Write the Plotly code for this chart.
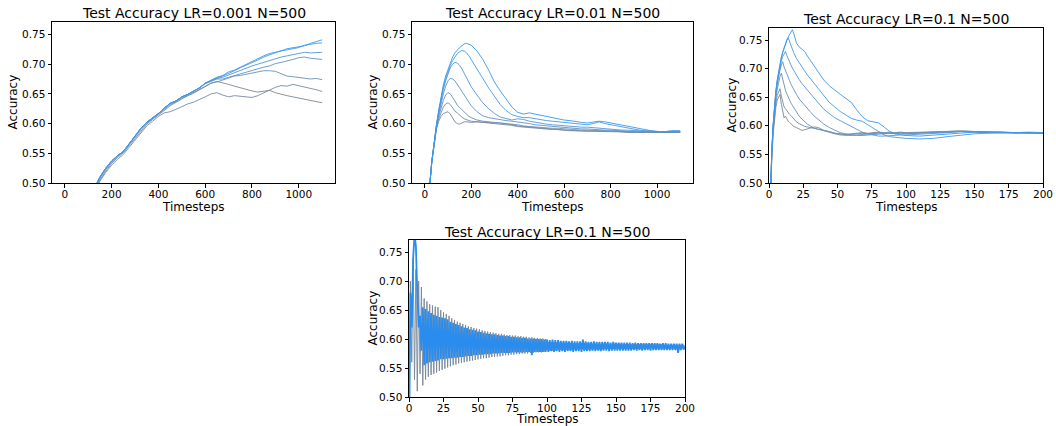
import plotly.graph_objects as go

# ---------------- data ----------------
TITLES = ["Test Accuracy LR=0.001 N=500", "Test Accuracy LR=0.01 N=500",
          "Test Accuracy LR=0.1 N=500", "Test Accuracy LR=0.1 N=500"]
Y_TICKS = [0.50, 0.55, 0.60, 0.65, 0.70, 0.75]
X_TICKS_LONG = [0, 200, 400, 600, 800, 1000]
X_TICKS_SHORT = [0, 25, 50, 75, 100, 125, 150, 175, 200]

# Panel 1 (LR=0.001): timesteps every 25
X1 = list(range(0, 1101, 25))
P1_L0 = [0.295, 0.335, 0.375, 0.415, 0.45, 0.485, 0.505, 0.52, 0.533,
         0.543, 0.551, 0.563, 0.575, 0.588, 0.599, 0.607, 0.614, 0.622,
         0.630, 0.636, 0.642, 0.647, 0.651, 0.657, 0.663, 0.668, 0.671,
         0.669, 0.666, 0.663, 0.660, 0.658, 0.655, 0.653, 0.654, 0.656,
         0.652, 0.649, 0.647, 0.645, 0.643, 0.642, 0.640, 0.638, 0.635]
P1_L1 = [0.29, 0.33, 0.37, 0.41, 0.445, 0.48, 0.503, 0.518, 0.530,
         0.540, 0.548, 0.560, 0.572, 0.585, 0.596, 0.604, 0.612, 0.618,
         0.620, 0.624, 0.629, 0.633, 0.636, 0.640, 0.645, 0.650, 0.652,
         0.648, 0.645, 0.647, 0.646, 0.644, 0.644, 0.647, 0.652, 0.656,
         0.661, 0.664, 0.663, 0.666, 0.664, 0.662, 0.659, 0.657, 0.654]
P1_L2 = [0.298, 0.338, 0.378, 0.418, 0.453, 0.488, 0.508, 0.523, 0.535,
         0.545, 0.552, 0.565, 0.578, 0.590, 0.600, 0.608, 0.616, 0.624,
         0.632, 0.637, 0.643, 0.647, 0.652, 0.658, 0.663, 0.668, 0.670,
         0.673, 0.676, 0.680, 0.681, 0.683, 0.686, 0.688, 0.689, 0.689,
         0.688, 0.684, 0.680, 0.679, 0.678, 0.676, 0.675, 0.676, 0.674]
P1_L3 = [0.30, 0.34, 0.38, 0.42, 0.455, 0.49, 0.51, 0.525, 0.537,
         0.546, 0.553, 0.566, 0.579, 0.592, 0.602, 0.609, 0.617, 0.626,
         0.634, 0.638, 0.645, 0.649, 0.654, 0.660, 0.667, 0.671, 0.675,
         0.675, 0.678, 0.680, 0.683, 0.686, 0.689, 0.692, 0.695, 0.697,
         0.701, 0.703, 0.705, 0.708, 0.711, 0.712, 0.710, 0.709, 0.708]
P1_L4 = [0.30, 0.34, 0.38, 0.42, 0.455, 0.49, 0.51, 0.525, 0.537,
         0.546, 0.553, 0.566, 0.579, 0.592, 0.602, 0.609, 0.617, 0.626,
         0.634, 0.638, 0.645, 0.649, 0.654, 0.660, 0.668, 0.672, 0.676,
         0.678, 0.682, 0.686, 0.690, 0.693, 0.697, 0.700, 0.703, 0.707,
         0.709, 0.712, 0.714, 0.716, 0.718, 0.720, 0.719, 0.720, 0.720]
P1_L5 = [0.30, 0.34, 0.38, 0.42, 0.455, 0.49, 0.51, 0.525, 0.537,
         0.546, 0.553, 0.566, 0.579, 0.592, 0.602, 0.609, 0.617, 0.626,
         0.634, 0.638, 0.645, 0.649, 0.654, 0.660, 0.668, 0.673, 0.677,
         0.680, 0.684, 0.689, 0.694, 0.698, 0.703, 0.707, 0.712, 0.716,
         0.719, 0.723, 0.724, 0.726, 0.728, 0.732, 0.734, 0.735, 0.736]
P1_L6 = [0.30, 0.34, 0.38, 0.42, 0.455, 0.49, 0.51, 0.525, 0.537,
         0.546, 0.553, 0.566, 0.579, 0.592, 0.602, 0.609, 0.617, 0.626,
         0.634, 0.638, 0.645, 0.649, 0.654, 0.660, 0.668, 0.673, 0.678,
         0.681, 0.687, 0.690, 0.695, 0.700, 0.704, 0.709, 0.714, 0.718,
         0.720, 0.722, 0.726, 0.728, 0.729, 0.731, 0.735, 0.738, 0.741]

# Panel 2 (LR=0.01)
X2 = [0, 10, 20, 30, 40, 50, 60, 70, 80, 90,
      100, 110, 120, 130, 140, 150, 160, 170, 180, 190,
      200, 225, 250, 275, 300, 325, 350, 375, 400, 425,
      450, 475, 500, 525, 550, 575, 600, 625, 650, 675,
      700, 725, 750, 775, 800, 825, 850, 875, 900, 925,
      950, 975, 1000, 1025, 1050, 1075, 1100]
P2_L0 = [0.30, 0.40, 0.49, 0.535, 0.566, 0.590, 0.604, 0.612, 0.617, 0.619,
         0.620, 0.616, 0.609, 0.603, 0.600, 0.599, 0.601, 0.603, 0.603, 0.602,
         0.602, 0.603, 0.602, 0.602, 0.601, 0.601, 0.600, 0.598, 0.596, 0.595,
         0.594, 0.593, 0.592, 0.591, 0.590, 0.589, 0.589, 0.588, 0.588, 0.587,
         0.587, 0.587, 0.587, 0.586, 0.586, 0.586, 0.586, 0.585, 0.585, 0.585,
         0.585, 0.585, 0.585, 0.585, 0.585, 0.585, 0.585]
P2_L1 = [0.30, 0.40, 0.49, 0.535, 0.567, 0.592, 0.608, 0.620, 0.628, 0.633,
         0.635, 0.632, 0.626, 0.621, 0.618, 0.614, 0.611, 0.608, 0.606, 0.605,
         0.604, 0.603, 0.603, 0.602, 0.601, 0.600, 0.599, 0.597, 0.595, 0.594,
         0.593, 0.592, 0.592, 0.591, 0.590, 0.590, 0.589, 0.589, 0.588, 0.588,
         0.588, 0.587, 0.587, 0.587, 0.587, 0.587, 0.586, 0.586, 0.586, 0.586,
         0.586, 0.586, 0.585, 0.585, 0.585, 0.586, 0.585]
P2_L2 = [0.30, 0.40, 0.49, 0.535, 0.568, 0.593, 0.612, 0.627, 0.639, 0.648,
         0.652, 0.650, 0.645, 0.638, 0.631, 0.627, 0.624, 0.620, 0.616, 0.612,
         0.610, 0.606, 0.604, 0.603, 0.602, 0.602, 0.601, 0.600, 0.598, 0.596,
         0.595, 0.594, 0.594, 0.593, 0.592, 0.592, 0.591, 0.590, 0.590, 0.589,
         0.589, 0.588, 0.588, 0.588, 0.587, 0.587, 0.587, 0.586, 0.586, 0.586,
         0.586, 0.586, 0.585, 0.585, 0.586, 0.586, 0.586]
P2_L3 = [0.30, 0.40, 0.49, 0.535, 0.569, 0.594, 0.615, 0.634, 0.650, 0.663,
         0.672, 0.676, 0.675, 0.672, 0.667, 0.660, 0.654, 0.648, 0.641, 0.635,
         0.630, 0.620, 0.613, 0.610, 0.608, 0.607, 0.605, 0.604, 0.603, 0.601,
         0.600, 0.598, 0.597, 0.596, 0.595, 0.594, 0.594, 0.593, 0.592, 0.591,
         0.591, 0.590, 0.590, 0.589, 0.589, 0.588, 0.588, 0.587, 0.587, 0.587,
         0.586, 0.586, 0.586, 0.586, 0.586, 0.587, 0.586]
P2_L4 = [0.30, 0.40, 0.49, 0.535, 0.57, 0.596, 0.619, 0.640, 0.657, 0.672,
         0.684, 0.694, 0.700, 0.703, 0.702, 0.698, 0.692, 0.685, 0.678, 0.670,
         0.662, 0.648, 0.635, 0.625, 0.617, 0.611, 0.608, 0.606, 0.608, 0.607,
         0.604, 0.602, 0.600, 0.599, 0.598, 0.597, 0.596, 0.596, 0.595, 0.594,
         0.594, 0.593, 0.592, 0.592, 0.591, 0.590, 0.589, 0.589, 0.588, 0.588,
         0.587, 0.587, 0.586, 0.586, 0.587, 0.587, 0.587]
P2_L5 = [0.30, 0.40, 0.49, 0.535, 0.57, 0.597, 0.621, 0.643, 0.662, 0.676,
         0.688, 0.698, 0.706, 0.713, 0.718, 0.721, 0.723, 0.722, 0.719, 0.714,
         0.708, 0.693, 0.676, 0.660, 0.645, 0.632, 0.622, 0.615, 0.612, 0.610,
         0.610, 0.608, 0.606, 0.605, 0.604, 0.603, 0.602, 0.601, 0.600, 0.598,
         0.598, 0.600, 0.603, 0.600, 0.598, 0.596, 0.594, 0.592, 0.590, 0.589,
         0.588, 0.587, 0.586, 0.586, 0.587, 0.588, 0.588]
P2_L6 = [0.30, 0.40, 0.49, 0.535, 0.57, 0.597, 0.622, 0.645, 0.665, 0.680,
         0.692, 0.703, 0.712, 0.719, 0.724, 0.728, 0.731, 0.734, 0.735, 0.734,
         0.732, 0.722, 0.708, 0.690, 0.670, 0.655, 0.642, 0.628, 0.619, 0.616,
         0.618, 0.616, 0.613, 0.611, 0.609, 0.607, 0.606, 0.605, 0.603, 0.602,
         0.601, 0.602, 0.604, 0.603, 0.601, 0.600, 0.598, 0.596, 0.593, 0.591,
         0.589, 0.588, 0.587, 0.586, 0.587, 0.588, 0.587]

# Panel 3 (LR=0.1, first 200 steps)
X3 = [0, 1, 2, 3, 4, 5, 6, 7, 8, 9,
      10, 11, 12, 13, 14, 15, 16, 17, 18, 20,
      22, 24, 26, 28, 30, 33, 36, 40, 44, 48,
      52, 56, 60, 64, 68, 72, 76, 80, 84, 88,
      92, 96, 100, 110, 120, 130, 140, 150, 160, 170,
      180, 190, 200]
P3_L0 = [0.38, 0.47, 0.54, 0.585, 0.612, 0.632, 0.645, 0.652, 0.655, 0.638,
         0.622, 0.614, 0.617, 0.611, 0.608, 0.606, 0.604, 0.601, 0.599, 0.597,
         0.594, 0.592, 0.593, 0.595, 0.596, 0.598, 0.597, 0.592, 0.589, 0.587,
         0.586, 0.585, 0.586, 0.587, 0.588, 0.587, 0.588, 0.589, 0.588, 0.589,
         0.588, 0.589, 0.588, 0.589, 0.590, 0.590, 0.591, 0.590, 0.589, 0.589,
         0.588, 0.588, 0.588]
P3_L1 = [0.38, 0.47, 0.545, 0.59, 0.62, 0.64, 0.653, 0.661, 0.665, 0.652,
         0.640, 0.633, 0.630, 0.626, 0.622, 0.620, 0.618, 0.615, 0.612, 0.607,
         0.604, 0.601, 0.599, 0.598, 0.597, 0.596, 0.595, 0.593, 0.590, 0.587,
         0.585, 0.584, 0.585, 0.586, 0.587, 0.586, 0.587, 0.588, 0.587, 0.588,
         0.587, 0.588, 0.587, 0.588, 0.589, 0.590, 0.590, 0.590, 0.589, 0.588,
         0.588, 0.588, 0.587]
P3_L2 = [0.38, 0.475, 0.55, 0.595, 0.627, 0.648, 0.664, 0.677, 0.686, 0.692,
         0.680, 0.670, 0.662, 0.656, 0.650, 0.645, 0.640, 0.636, 0.632, 0.624,
         0.617, 0.612, 0.607, 0.603, 0.600, 0.596, 0.594, 0.591, 0.588, 0.586,
         0.584, 0.583, 0.583, 0.584, 0.585, 0.585, 0.586, 0.587, 0.586, 0.587,
         0.587, 0.588, 0.587, 0.588, 0.589, 0.590, 0.591, 0.590, 0.589, 0.588,
         0.588, 0.588, 0.587]
P3_L3 = [0.38, 0.475, 0.552, 0.598, 0.632, 0.655, 0.672, 0.686, 0.697, 0.706,
         0.712, 0.703, 0.696, 0.690, 0.685, 0.679, 0.673, 0.668, 0.663, 0.655,
         0.647, 0.641, 0.636, 0.630, 0.625, 0.617, 0.611, 0.603, 0.597, 0.592,
         0.588, 0.586, 0.584, 0.583, 0.583, 0.584, 0.585, 0.586, 0.586, 0.587,
         0.586, 0.587, 0.586, 0.587, 0.588, 0.589, 0.590, 0.589, 0.589, 0.588,
         0.588, 0.587, 0.588]
P3_L4 = [0.38, 0.475, 0.553, 0.60, 0.634, 0.658, 0.676, 0.691, 0.703, 0.713,
         0.721, 0.727, 0.730, 0.723, 0.717, 0.711, 0.706, 0.701, 0.697, 0.688,
         0.681, 0.674, 0.668, 0.662, 0.656, 0.647, 0.640, 0.629, 0.621, 0.614,
         0.609, 0.604, 0.599, 0.594, 0.589, 0.586, 0.584, 0.582, 0.582, 0.583,
         0.583, 0.584, 0.584, 0.585, 0.586, 0.588, 0.590, 0.589, 0.588, 0.588,
         0.587, 0.588, 0.587]
P3_L5 = [0.38, 0.475, 0.553, 0.601, 0.636, 0.66, 0.679, 0.695, 0.708, 0.719,
         0.728, 0.736, 0.743, 0.749, 0.754, 0.747, 0.740, 0.734, 0.728, 0.718,
         0.710, 0.703, 0.696, 0.689, 0.683, 0.673, 0.664, 0.652, 0.641, 0.633,
         0.625, 0.619, 0.613, 0.610, 0.608, 0.602, 0.596, 0.589, 0.584, 0.581,
         0.580, 0.579, 0.578, 0.577, 0.578, 0.581, 0.584, 0.586, 0.587, 0.588,
         0.588, 0.587, 0.587]
P3_L6 = [0.38, 0.475, 0.553, 0.601, 0.637, 0.661, 0.68, 0.696, 0.709, 0.72,
         0.729, 0.737, 0.744, 0.750, 0.755, 0.760, 0.764, 0.768, 0.762, 0.745,
         0.738, 0.734, 0.730, 0.722, 0.715, 0.704, 0.692, 0.680, 0.670, 0.662,
         0.655, 0.648, 0.641, 0.628, 0.616, 0.609, 0.607, 0.605, 0.598, 0.590,
         0.586, 0.584, 0.583, 0.582, 0.584, 0.586, 0.587, 0.589, 0.588, 0.589,
         0.588, 0.589, 0.588]

# Panel 4 (LR=0.1, oscillating runs, every timestep)
X4 = list(range(0, 201))
P4_GRAY = [0.40, 0.70, 0.56, 0.74, 0.53, 0.72, 0.51, 0.70, 0.54, 0.69,
           0.52, 0.67, 0.53, 0.665, 0.535, 0.66, 0.538, 0.658, 0.54, 0.656,
           0.542, 0.655, 0.545, 0.650, 0.547, 0.646, 0.549, 0.643, 0.551, 0.640,
           0.553, 0.636, 0.555, 0.633, 0.556, 0.630, 0.558, 0.628, 0.559, 0.626,
           0.560, 0.624, 0.561, 0.622, 0.562, 0.621, 0.563, 0.619, 0.564, 0.618,
           0.565, 0.617, 0.566, 0.615, 0.567, 0.614, 0.567, 0.613, 0.568, 0.612,
           0.569, 0.611, 0.569, 0.610, 0.570, 0.609, 0.570, 0.609, 0.571, 0.608,
           0.572, 0.607, 0.572, 0.607, 0.573, 0.606, 0.573, 0.606, 0.574, 0.605,
           0.574, 0.605, 0.575, 0.604, 0.575, 0.604, 0.575, 0.603, 0.576, 0.603,
           0.576, 0.602, 0.577, 0.602, 0.577, 0.601, 0.577, 0.601, 0.578, 0.600,
           0.580, 0.595, 0.580, 0.595, 0.580, 0.595, 0.580, 0.594, 0.581, 0.594,
           0.581, 0.594, 0.581, 0.594, 0.581, 0.594, 0.581, 0.593, 0.581, 0.593,
           0.582, 0.593, 0.582, 0.593, 0.582, 0.593, 0.582, 0.593, 0.582, 0.593,
           0.582, 0.593, 0.582, 0.592, 0.582, 0.592, 0.582, 0.592, 0.582, 0.592,
           0.582, 0.592, 0.583, 0.592, 0.583, 0.592, 0.583, 0.592, 0.583, 0.592,
           0.583, 0.592, 0.583, 0.592, 0.583, 0.591, 0.583, 0.591, 0.583, 0.591,
           0.583, 0.591, 0.583, 0.591, 0.583, 0.591, 0.583, 0.591, 0.583, 0.591,
           0.584, 0.591, 0.584, 0.591, 0.584, 0.591, 0.584, 0.591, 0.584, 0.591,
           0.584, 0.591, 0.584, 0.591, 0.584, 0.590, 0.584, 0.590, 0.584, 0.590,
           0.584, 0.590, 0.584, 0.590, 0.584, 0.590, 0.584, 0.590, 0.584, 0.590,
           0.586]
P4_BLUE = [0.40, 0.68, 0.62, 0.74, 0.78, 0.76, 0.68, 0.62, 0.64, 0.58,
           0.655, 0.555, 0.652, 0.558, 0.648, 0.560, 0.645, 0.561, 0.642, 0.562,
           0.640, 0.563, 0.638, 0.565, 0.637, 0.565, 0.636, 0.566, 0.634, 0.567,
           0.630, 0.567, 0.628, 0.568, 0.626, 0.568, 0.624, 0.569, 0.622, 0.569,
           0.620, 0.570, 0.619, 0.571, 0.617, 0.571, 0.616, 0.572, 0.615, 0.572,
           0.613, 0.573, 0.612, 0.573, 0.611, 0.574, 0.610, 0.574, 0.609, 0.574,
           0.608, 0.575, 0.608, 0.575, 0.607, 0.575, 0.606, 0.576, 0.606, 0.576,
           0.605, 0.576, 0.605, 0.576, 0.604, 0.577, 0.604, 0.577, 0.603, 0.577,
           0.603, 0.577, 0.602, 0.577, 0.602, 0.578, 0.601, 0.578, 0.601, 0.572,
           0.601, 0.578, 0.600, 0.578, 0.600, 0.578, 0.600, 0.578, 0.599, 0.578,
           0.599, 0.578, 0.598, 0.579, 0.599, 0.578, 0.598, 0.579, 0.598, 0.578,
           0.597, 0.579, 0.597, 0.578, 0.597, 0.579, 0.596, 0.579, 0.597, 0.578,
           0.596, 0.579, 0.596, 0.579, 0.596, 0.578, 0.599, 0.579, 0.596, 0.579,
           0.595, 0.579, 0.595, 0.580, 0.596, 0.579, 0.595, 0.580, 0.595, 0.579,
           0.595, 0.580, 0.595, 0.580, 0.595, 0.579, 0.594, 0.580, 0.595, 0.580,
           0.594, 0.580, 0.594, 0.580, 0.594, 0.580, 0.594, 0.580, 0.594, 0.580,
           0.594, 0.580, 0.593, 0.581, 0.594, 0.580, 0.593, 0.581, 0.593, 0.580,
           0.593, 0.581, 0.593, 0.581, 0.593, 0.580, 0.593, 0.581, 0.593, 0.581,
           0.593, 0.581, 0.592, 0.581, 0.593, 0.581, 0.593, 0.581, 0.592, 0.581,
           0.592, 0.581, 0.592, 0.581, 0.592, 0.576, 0.592, 0.581, 0.592, 0.582,
           0.587]

P1 = [P1_L0, P1_L1, P1_L2, P1_L3, P1_L4, P1_L5, P1_L6]
P2 = [P2_L0, P2_L1, P2_L2, P2_L3, P2_L4, P2_L5, P2_L6]
P3 = [P3_L0, P3_L1, P3_L2, P3_L3, P3_L4, P3_L5, P3_L6]

# ---------------- styling ----------------
W, H = 1056, 426
FONT = "DejaVu Sans"
LINE_COLORS = ["rgba(125,135,148,0.9)", "rgba(118,140,165,0.9)", "rgba(108,143,182,0.9)",
               "rgba(96,146,200,0.9)", "rgba(82,150,218,0.9)", "rgba(68,153,232,0.9)",
               "rgba(55,152,242,0.9)"]
GRAY4 = "rgba(120,134,152,0.9)"
BLUE4 = "rgba(42,140,236,1.0)"

# axes boxes in pixel coordinates (left, right, top, bottom)
BOXES = [(52, 335, 22, 183), (412, 693, 22, 183), (769, 1043, 28, 183), (409, 685, 240, 397)]
XRANGES = [[-55, 1155], [-55, 1155], [0, 200], [0, 200]]
YRANGE = [0.5, 0.771]
TITLE_Y = [13, 13, 19, 232]
XLABEL_Y = [207, 207, 207, 419]
YLABEL_X = [13, 373, 732, 372]

fig = go.Figure()


def add_lines(idx, xs, series):
    for k, ys in enumerate(series):
        n = min(len(xs), len(ys))
        fig.add_trace(go.Scatter(x=xs[:n], y=ys[:n], mode="lines",
                                 line=dict(color=LINE_COLORS[k], width=1),
                                 xaxis="x" if idx == 0 else f"x{idx+1}",
                                 yaxis="y" if idx == 0 else f"y{idx+1}",
                                 showlegend=False, hoverinfo="skip"))


add_lines(0, X1, P1)
add_lines(1, X2, P2)
add_lines(2, X3, P3)
for ys, col, wd in [(P4_GRAY, GRAY4, 1.0), (P4_BLUE, BLUE4, 1.8)]:
    n = min(len(X4), len(ys))
    fig.add_trace(go.Scatter(x=X4[:n], y=ys[:n], mode="lines",
                             line=dict(color=col, width=wd),
                             xaxis="x4", yaxis="y4", showlegend=False, hoverinfo="skip"))

layout = dict(template="none", width=W, height=H, margin=dict(l=0, r=0, t=0, b=0, autoexpand=False),
              paper_bgcolor="white", plot_bgcolor="white", showlegend=False,
              font=dict(family=FONT, color="black", size=10), annotations=[])

for i, (l, r, t, b) in enumerate(BOXES):
    sx = "" if i == 0 else str(i + 1)
    xt = X_TICKS_LONG if i < 2 else X_TICKS_SHORT
    layout["xaxis" + sx] = dict(domain=[l / W, r / W], range=XRANGES[i], anchor="y" + sx,
                                tickvals=xt, ticks="outside", ticklen=3.5, tickwidth=0.8,
                                tickcolor="black", showline=True, linecolor="black",
                                linewidth=1, mirror=True, showgrid=False, zeroline=False,
                                automargin=False, ticklabelstandoff=-2,
                                tickfont=dict(size=10.5, family=FONT, color="black"))
    layout["yaxis" + sx] = dict(domain=[1 - b / H, 1 - t / H], range=YRANGE, anchor="x" + sx,
                                tickvals=Y_TICKS, tickformat=".2f", ticks="outside",
                                ticklen=3.5, tickwidth=0.8, tickcolor="black",
                                showline=True, linecolor="black", linewidth=1, mirror=True,
                                showgrid=False, zeroline=False, automargin=False,
                                tickfont=dict(size=10.5, family=FONT, color="black"))
    cx = (l + r) / 2
    layout["annotations"].append(dict(text=TITLES[i], x=cx / W, y=1 - TITLE_Y[i] / H,
                                      xref="paper", yref="paper", showarrow=False,
                                      xanchor="center", yanchor="middle",
                                      font=dict(size=14, family=FONT, color="black")))
    layout["annotations"].append(dict(text="Timesteps", x=cx / W, y=1 - XLABEL_Y[i] / H,
                                      xref="paper", yref="paper", showarrow=False,
                                      xanchor="center", yanchor="middle",
                                      font=dict(size=12, family=FONT, color="black")))
    layout["annotations"].append(dict(text="Accuracy", x=YLABEL_X[i] / W,
                                      y=1 - ((t + b) / 2) / H, xref="paper", yref="paper",
                                      showarrow=False, textangle=-90, xanchor="center",
                                      yanchor="middle",
                                      font=dict(size=12, family=FONT, color="black")))

fig.update_layout(**layout)
fig.write_html("out.html", config={"displayModeBar": False},
               post_script="document.body.style.margin='0';document.body.style.overflow='hidden';")
